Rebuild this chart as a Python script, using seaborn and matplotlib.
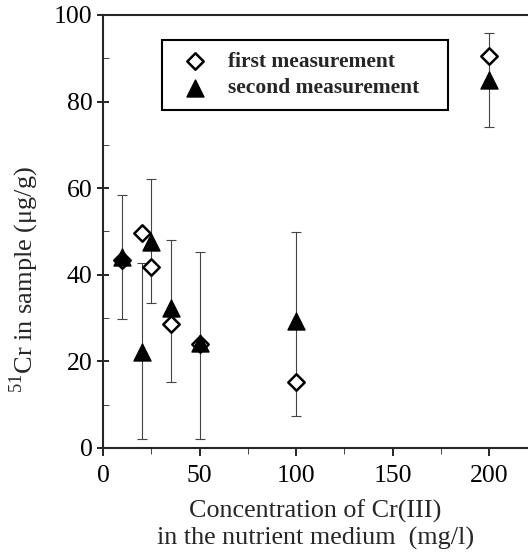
import matplotlib
matplotlib.use("Agg")
import matplotlib.pyplot as plt
import seaborn as sns
import pandas as pd
from matplotlib.ticker import MultipleLocator

# dados
conc = [10, 20, 25, 35, 50, 100, 200]
first = [43.5, 49.7, 41.9, 28.6, 23.9, 15.3, 90.4]
second = [44.2, 22.2, 47.6, 32.3, 24.2, 29.2, 85.0]
second_low = [29.8, 2.0, 33.4, 15.3, 2.1, 7.4, 74.2]
second_high = [58.4, 42.6, 62.0, 48.0, 45.2, 49.8, 95.9]

sns.set_style("ticks")
plt.rcParams['font.family'] = ['Liberation Serif', 'DejaVu Serif']
plt.rcParams['mathtext.fontset'] = 'custom'
plt.rcParams['mathtext.rm'] = 'Liberation Serif'

df1 = pd.DataFrame({'x': conc, 'y': first})
df2 = pd.DataFrame({'x': conc, 'y': second})

fig = plt.figure(figsize=(5.28, 5.53), dpi=100)
ax = fig.add_axes([0.195, 0.19, 0.805, 0.783])

err = [[s - lo for s, lo in zip(second, second_low)],
       [hi - s for s, hi in zip(second, second_high)]]
ax.errorbar(conc, second, yerr=err, fmt='none', ecolor='#444444',
            elinewidth=0.8, capsize=3.5, capthick=0.8, zorder=1)

sns.scatterplot(data=df1, x='x', y='y', marker='D', s=70, facecolor='white',
                edgecolor='black', linewidth=1.8, ax=ax, zorder=3,
                label='first measurement')
sns.scatterplot(data=df2, x='x', y='y', marker='^', s=150, color='black',
                edgecolor='black', ax=ax, zorder=4, label='second measurement')

ax.set_xlim(0, 220)
ax.set_ylim(0, 100)
ax.xaxis.set_major_locator(MultipleLocator(50))
ax.xaxis.set_minor_locator(MultipleLocator(25))
ax.yaxis.set_major_locator(MultipleLocator(20))
ax.yaxis.set_minor_locator(MultipleLocator(10))
ax.tick_params(axis='both', which='major', labelsize=18.5, width=1.2, length=6, colors='black')
ax.tick_params(axis='x', which='major', pad=6)
ax.tick_params(axis='y', which='major', direction='inout', length=9, pad=3)
ax.tick_params(axis='y', which='minor', direction='in', length=4)
ax.tick_params(axis='x', which='minor', direction='out', length=4)
ax.spines['right'].set_visible(False)
for s in ['left', 'bottom', 'top']:
    ax.spines[s].set_linewidth(1.5)

ax.set_xlabel("Concentration of Cr(III)\nin the nutrient medium  (mg/l)", fontsize=18.8,
              labelpad=9, linespacing=1.25)
ax.set_ylabel(r"$^{51}$Cr in sample (μg/g)", fontsize=19)
ax.yaxis.set_label_coords(-0.145, 0.39)

leg = ax.legend(loc='upper left', bbox_to_anchor=(0.139, 0.942, 0.673, 0.0),
                mode='expand', frameon=True,
                fancybox=False, edgecolor='black', framealpha=1,
                prop={'weight': 'bold', 'size': 15.5}, handletextpad=0.5,
                borderpad=0.55, labelspacing=0.3, borderaxespad=0)
leg.get_frame().set_linewidth(1.5)

fig.savefig("out.png", dpi=100)
